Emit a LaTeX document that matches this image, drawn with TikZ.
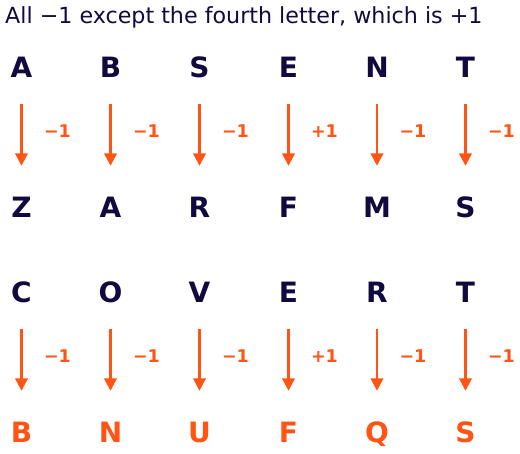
\documentclass[tikz,border=0pt]{standalone}
\usepackage{fontspec}
\setmainfont{DejaVu Sans}
\usetikzlibrary{arrows.meta}
\definecolor{navy}{RGB}{16,10,62}
\definecolor{orng}{RGB}{255,84,20}
\tikzset{
  letter/.style={inner sep=0pt, anchor=base, text height=20pt, text depth=0pt, font=\fontsize{28}{28}\selectfont\bfseries},
  navyletter/.style={letter, text=navy},
  orangeletter/.style={letter, text=orng},
  shiftarrow/.style={draw=orng, line width=2.4pt, -{Triangle[width=12.5pt,length=12.5pt]}, shorten <=26.5pt, shorten >=31pt},
  shiftlabel/.style={inner sep=0pt, text=orng, font=\fontsize{17.5}{18}\selectfont\bfseries}
}
\begin{document}
\begin{tikzpicture}[x=1pt,y=-1pt]
\useasboundingbox (0,0) rectangle (520,453);
\node[anchor=base west, inner sep=0pt, text=navy, font=\fontsize{22.2}{23}\selectfont] (title) at (5,23) {All −1 except the fourth letter, which is +1};
% columns
\def\xs{{21.5,110.5,199.5,288.5,377,465.5}}
\foreach \a/\b/\lab [count=\i] in {A/Z/−1,B/A/−1,S/R/−1,E/F/+1,N/M/−1,T/S/−1}{
  \pgfmathsetmacro{\xx}{\xs[\i-1]}
  \node[navyletter] (t\i) at (\xx,77) {\a};
  \node[navyletter] (u\i) at (\xx,217) {\b};
  \draw[shiftarrow] (t\i) -- (u\i);
  \node[shiftlabel] (l\i) at (\xx+36,131) {\lab};
}
\foreach \a/\b/\lab [count=\i] in {C/B/−1,O/N/−1,V/U/−1,E/F/+1,R/Q/−1,T/S/−1}{
  \pgfmathsetmacro{\xx}{\xs[\i-1]}
  \node[navyletter] (c\i) at (\xx,302) {\a};
  \node[orangeletter] (d\i) at (\xx,442) {\b};
  \draw[shiftarrow] (c\i) -- (d\i);
  \node[shiftlabel] (m\i) at (\xx+36,356) {\lab};
}
\end{tikzpicture}
\end{document}
